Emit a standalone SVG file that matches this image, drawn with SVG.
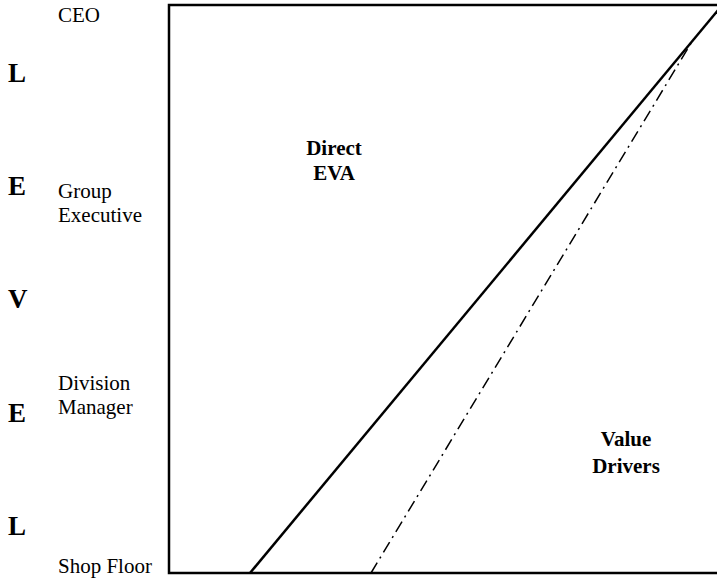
<svg xmlns="http://www.w3.org/2000/svg" width="717" height="579" viewBox="0 0 717 579">
  <style>
    .lvl { font-family: "Liberation Serif", "Times New Roman", serif; font-size: 21px; fill: #000; }
    .big { font-family: "Liberation Serif", "Times New Roman", serif; font-size: 27px; font-weight: bold; fill: #000; }
    .area { font-family: "Liberation Serif", "Times New Roman", serif; font-size: 21px; font-weight: bold; fill: #000; text-anchor: middle; }
    .axis { fill: none; stroke: #000; stroke-width: 2.5; }
    .solid { stroke: #000; stroke-width: 2.5; fill: none; }
    .dashdot { stroke: #000; stroke-width: 1.5; fill: none; stroke-dasharray: 12 5 2 5; }
  </style>
  <rect width="717" height="579" fill="#fff"/>

  <!-- frame: top edge, left edge, bottom edge -->
  <g id="frame">
    <polyline class="axis" points="717,5 169,5 169,573 717,573"/>
  </g>

  <!-- LEVEL letters down the side -->
  <g id="level-word">
    <text class="big" x="8" y="82">L</text>
    <text class="big" x="8" y="195">E</text>
    <text class="big" x="8" y="308">V</text>
    <text class="big" x="8" y="422">E</text>
    <text class="big" x="8" y="535">L</text>
  </g>

  <!-- organisational levels -->
  <g id="level-ceo"><text class="lvl" x="58" y="22">CEO</text></g>
  <g id="level-group">
    <text class="lvl" x="58" y="198">Group</text>
    <text class="lvl" x="58" y="222">Executive</text>
  </g>
  <g id="level-division">
    <text class="lvl" x="58" y="390">Division</text>
    <text class="lvl" x="58" y="414">Manager</text>
  </g>
  <g id="level-shop"><text class="lvl" x="58" y="573">Shop Floor</text></g>

  <!-- dividing lines -->
  <g id="connectors">
    <line class="solid" x1="250" y1="573" x2="719" y2="9"/>
    <line class="dashdot" x1="371" y1="573" x2="693" y2="40"/>
  </g>

  <!-- regions -->
  <g id="direct-eva">
    <text class="area" x="334" y="155">Direct</text>
    <text class="area" x="334" y="180">EVA</text>
  </g>
  <g id="value-drivers">
    <text class="area" x="626" y="446">Value</text>
    <text class="area" x="626" y="473">Drivers</text>
  </g>
</svg>
